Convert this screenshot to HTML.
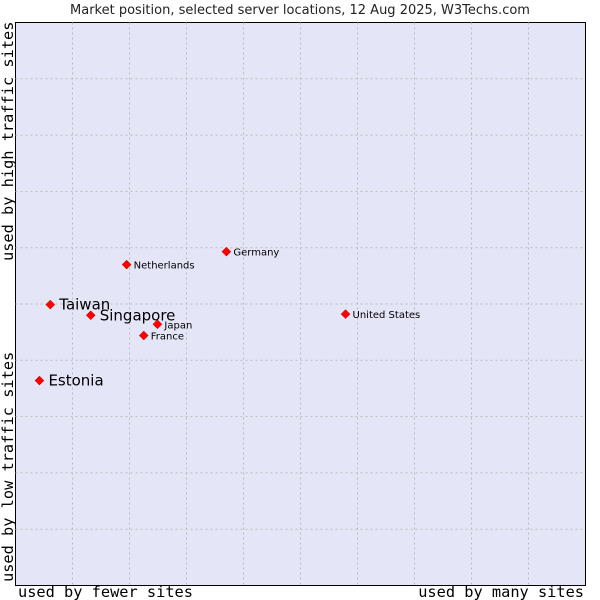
<!DOCTYPE html>
<html><head><meta charset="utf-8"><style>
body{margin:0;background:#fff}
svg{display:block}
</style></head><body>
<svg id="chart" width="600" height="600" xmlns="http://www.w3.org/2000/svg">
<rect x="0" y="0" width="600" height="600" fill="#fff"/>
<text x="300" y="14" text-anchor="middle" font-family="DejaVu Sans, sans-serif" font-size="13" fill="#222">Market position, selected server locations, 12 Aug 2025, W3Techs.com</text>
<rect x="15.5" y="22.5" width="570" height="563" fill="#e4e6f8" stroke="#000" stroke-width="1"/>
<g id="grid"></g>
<g id="points"></g>
<text x="18" y="597" font-family="DejaVu Sans Mono, monospace" font-size="15.3" fill="#000">used by fewer sites</text>
<text x="584" y="597" text-anchor="end" font-family="DejaVu Sans Mono, monospace" font-size="15.3" fill="#000">used by many sites</text>
<text transform="translate(13,582) rotate(-90)" font-family="DejaVu Sans Mono, monospace" font-size="15.3" fill="#000">used by low traffic sites</text>
<text transform="translate(13,261) rotate(-90)" font-family="DejaVu Sans Mono, monospace" font-size="15.3" fill="#000">used by high traffic sites</text>
</svg>
<script>
const names = ["Taiwan","Singapore","Netherlands","Germany","United States","Japan","France","Estonia"];
const xValues = [6.1,13.2,19.5,37.0,57.9,24.9,22.5,4.2];
const yValues = [49.9,48.0,57.0,59.3,48.2,46.4,44.4,36.4];
const bigLabel = [true,true,false,false,false,false,false,true];
const NS="http://www.w3.org/2000/svg";
const X0=15.5,X1=585.5,Y0=585.5,Y1=22.5;
const sx=v=>X0+(X1-X0)*v/100, sy=v=>Y0-(Y0-Y1)*v/100;
const grid=document.getElementById('grid');
for(let i=1;i<10;i++){
  const lv=document.createElementNS(NS,'line');
  lv.setAttribute('x1',sx(i*10));lv.setAttribute('x2',sx(i*10));lv.setAttribute('y1',Y1);lv.setAttribute('y2',Y0);
  lv.setAttribute('stroke','#bbb');lv.setAttribute('stroke-dasharray','2,3');
  
  
  grid.appendChild(lv);
  const lh=document.createElementNS(NS,'line');
  lh.setAttribute('y1',sy(i*10));lh.setAttribute('y2',sy(i*10));lh.setAttribute('x1',X0);lh.setAttribute('x2',X1);
  lh.setAttribute('stroke','#bbb');lh.setAttribute('stroke-dasharray','2,3');
  
  
  grid.appendChild(lh);
}
const pts=document.getElementById('points');
names.forEach((n,i)=>{
  const x=sx(xValues[i]),y=sy(yValues[i]);
  const d=document.createElementNS(NS,'path');
  d.setAttribute('d',`M${x} ${y-4.5}L${x+4.5} ${y}L${x} ${y+4.5}L${x-4.5} ${y}Z`);
  d.setAttribute('fill','#f00');d.setAttribute('stroke','#b00');d.setAttribute('stroke-width','0.5');
  
  
  pts.appendChild(d);
  const t=document.createElementNS(NS,'text');
  t.setAttribute('x',x+(bigLabel[i]?9:7));
  t.setAttribute('y',y+(bigLabel[i]?5:4));
  t.setAttribute('font-family','DejaVu Sans, sans-serif');
  t.setAttribute('font-size',bigLabel[i]?'15':'10');
  t.textContent=n;
  
  
  pts.appendChild(t);
});
</script>
</body></html>
